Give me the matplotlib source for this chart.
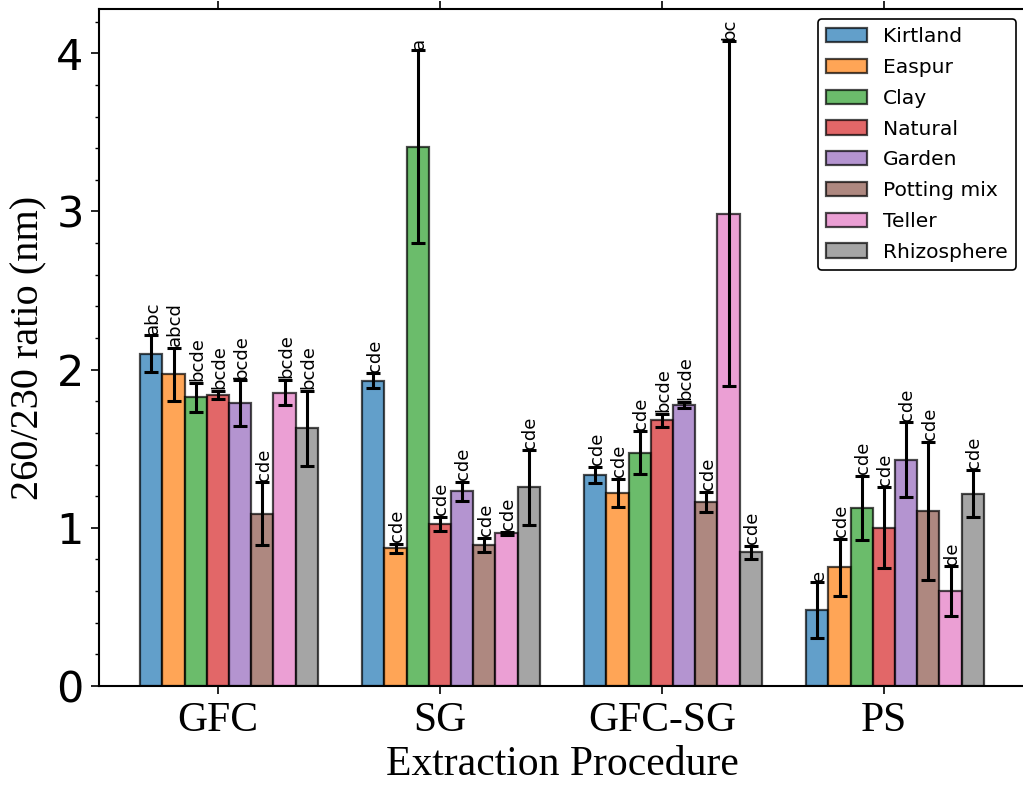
import numpy as np
import matplotlib
matplotlib.use("Agg")
import matplotlib.pyplot as plt

procedures = ["GFC", "SG", "GFC-SG", "PS"]
soils = ["Kirtland", "Easpur", "Clay", "Natural", "Garden", "Potting mix", "Teller", "Rhizosphere"]

# means per soil, order of procedures: GFC, SG, GFC-SG, PS
kirtland = [2.10, 1.93, 1.335, 0.48]
easpur = [1.97, 0.87, 1.22, 0.75]
clay = [1.825, 3.41, 1.475, 1.125]
natural = [1.84, 1.025, 1.68, 1.00]
garden = [1.79, 1.23, 1.775, 1.43]
potting = [1.09, 0.89, 1.165, 1.105]
teller = [1.855, 0.965, 2.985, 0.60]
rhizo = [1.63, 1.255, 0.845, 1.215]

kirtland_err = [0.118, 0.048, 0.05, 0.175]
easpur_err = [0.17, 0.03, 0.09, 0.18]
clay_err = [0.093, 0.61, 0.136, 0.205]
natural_err = [0.027, 0.045, 0.04, 0.256]
garden_err = [0.144, 0.06, 0.02, 0.238]
potting_err = [0.197, 0.046, 0.062, 0.438]
teller_err = [0.081, 0.01, 1.09, 0.158]
rhizo_err = [0.237, 0.235, 0.04, 0.148]

kirtland_lbl = ["abc", "cde", "cde", "e"]
easpur_lbl = ["abcd", "cde", "cde", "cde"]
clay_lbl = ["bcde", "a", "cde", "cde"]
natural_lbl = ["bcde", "cde", "bcde", "cde"]
garden_lbl = ["bcde", "cde", "bcde", "cde"]
potting_lbl = ["cde", "cde", "cde", "cde"]
teller_lbl = ["bcde", "cde", "bc", "de"]
rhizo_lbl = ["bcde", "cde", "cde", "cde"]

means = [kirtland, easpur, clay, natural, garden, potting, teller, rhizo]
errs = [kirtland_err, easpur_err, clay_err, natural_err, garden_err, potting_err, teller_err, rhizo_err]
labels = [kirtland_lbl, easpur_lbl, clay_lbl, natural_lbl, garden_lbl, potting_lbl, teller_lbl, rhizo_lbl]
colors = plt.get_cmap("tab10").colors[:8]

fig = plt.figure(figsize=(10.23, 7.85), dpi=100)
ax = fig.add_axes([99/1023, 99/785, (1026-99)/1023, (686-9)/785])

x = np.arange(len(procedures))
w = 0.1
for i, soil in enumerate(soils):
    pos = x + (i - 3) * w
    ax.bar(pos, means[i], w, color=colors[i], alpha=0.7, edgecolor="black",
           linewidth=1.6, label=soil)
    ax.errorbar(pos, means[i], yerr=errs[i], fmt="none", ecolor="black",
                elinewidth=2.2, capsize=5, capthick=2.2)
    for j in range(len(procedures)):
        ax.text(pos[j] + 0.006, means[i][j] + errs[i][j] + 0.01, labels[i][j], rotation=90,
                ha="center", va="bottom", fontsize=13, family="DejaVu Sans")

ax.set_xlim(-0.536, 3.64)
ax.set_ylim(0, 4.28)
ax.set_xticks(x)
ax.set_xticklabels(procedures, family="Liberation Serif", fontsize=30)
ax.set_yticks([0, 1, 2, 3, 4])
ax.set_yticks(np.arange(0, 4.3, 0.2), minor=True)
for lab in ax.get_yticklabels():
    lab.set_family("DejaVu Sans")
    lab.set_fontsize(31)
ax.tick_params(axis="x", which="major", top=True, direction="out", length=6, width=1.2, pad=5)
ax.tick_params(axis="y", which="major", direction="out", length=6, width=1.2, pad=5)
ax.tick_params(axis="y", which="minor", direction="out", length=3, width=1.0)
for s in ax.spines.values():
    s.set_linewidth(1.5)

ax.set_xlabel("Extraction Procedure", family="Liberation Serif", fontsize=30, labelpad=4)
ax.set_ylabel("260/230 ratio (nm)", family="Liberation Serif", fontsize=29, labelpad=6)

leg = ax.legend(loc="upper right", prop={"family": "DejaVu Sans", "size": 14.6},
                labelspacing=0.58, frameon=True, fancybox=True, framealpha=1)
leg.get_frame().set_edgecolor("black")
leg.get_frame().set_linewidth(1.2)

fig.savefig("out.png", dpi=100)
